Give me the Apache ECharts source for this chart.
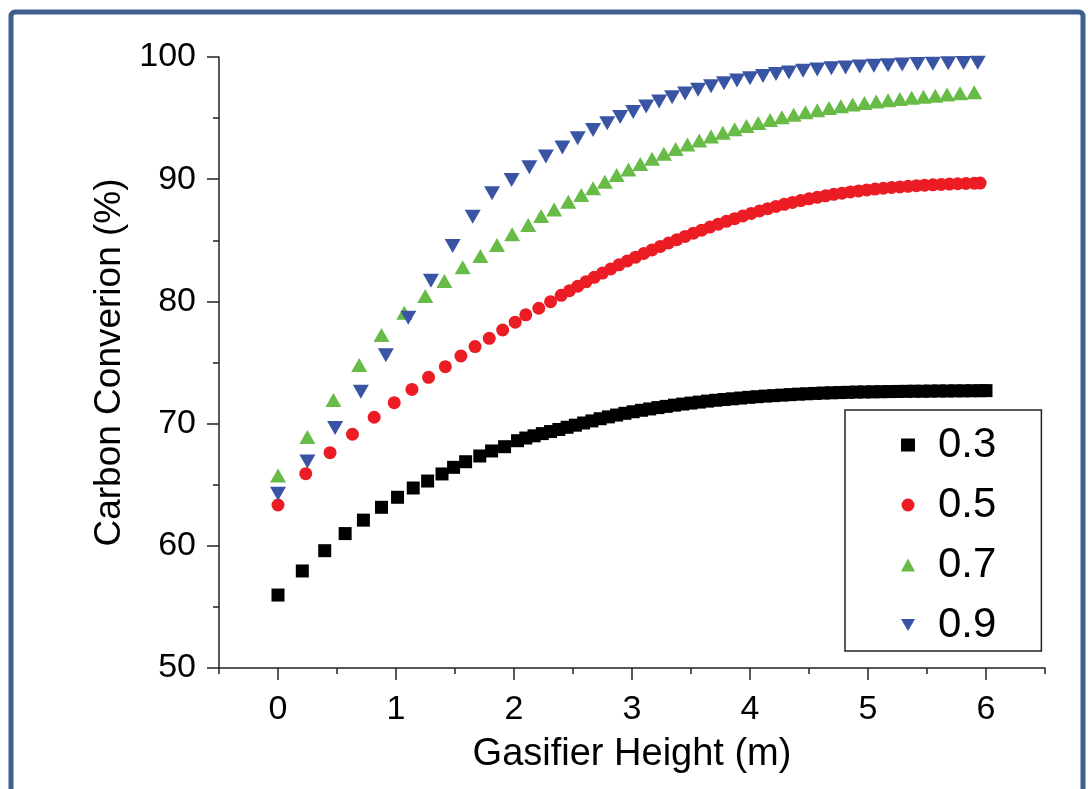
<!DOCTYPE html>
<html>
<head>
<meta charset="utf-8">
<script src="https://cdn.jsdelivr.net/npm/echarts@6/dist/echarts.min.js"></script>
<style>
  html, body { margin: 0; padding: 0; background: #ffffff; }
  #chart { width: 1088px; height: 789px; }
</style>
</head>
<body>
<div id="chart"></div>
<script>
// Carbon conversion along the gasifier height for four parameter values

const seriesNames = ['0.3', '0.5', '0.7', '0.9'];

const xTickValues = [0, 1, 2, 3, 4, 5, 6];

// 0.3
const heights03 = [0, 0.206, 0.396, 0.569, 0.724, 0.877, 1.013, 1.146, 1.268, 1.39, 1.488, 1.59, 1.71, 1.81, 1.92, 2.03,
  2.10, 2.17, 2.24, 2.31, 2.38, 2.45, 2.52, 2.59, 2.66, 2.73, 2.80, 2.87, 2.94, 3.01, 3.08, 3.15, 3.22, 3.29, 3.36, 3.43,
  3.50, 3.57, 3.64, 3.71, 3.78, 3.85, 3.92, 3.99, 4.06, 4.13, 4.20, 4.27, 4.34, 4.41, 4.48, 4.55, 4.62, 4.69, 4.76, 4.83,
  4.90, 4.97, 5.04, 5.11, 5.18, 5.25, 5.32, 5.39, 5.46, 5.53, 5.60, 5.67, 5.74, 5.81, 5.88, 5.95, 6.0];
const conv03 = [55.97, 57.94, 59.6, 61.0, 62.1, 63.15, 63.97, 64.73, 65.3, 65.88, 66.42, 66.88, 67.35, 67.76, 68.11, 68.6,
  68.82, 69.0, 69.18, 69.35, 69.52, 69.7, 69.87, 70.05, 70.22, 70.4, 70.55, 70.7, 70.84, 70.97, 71.09, 71.2, 71.31, 71.41, 71.51, 71.6,
  71.68, 71.76, 71.84, 71.91, 71.97, 72.03, 72.09, 72.15, 72.2, 72.25, 72.29, 72.33, 72.37, 72.41, 72.44, 72.47, 72.5, 72.52, 72.54, 72.56,
  72.58, 72.59, 72.6, 72.61, 72.62, 72.63, 72.64, 72.65, 72.65, 72.66, 72.67, 72.67, 72.68, 72.68, 72.69, 72.69, 72.7];

// 0.5
const heights05 = [0, 0.235, 0.441, 0.631, 0.815, 0.985, 1.135, 1.276, 1.418, 1.55, 1.67, 1.79, 1.904, 2.01, 2.1, 2.21, 2.31, 2.4,
  2.47, 2.54, 2.61, 2.68, 2.75, 2.82, 2.89, 2.96, 3.03, 3.10, 3.17, 3.24, 3.31, 3.38, 3.45, 3.52, 3.59, 3.66, 3.73, 3.80,
  3.87, 3.94, 4.01, 4.08, 4.15, 4.22, 4.29, 4.36, 4.43, 4.50, 4.57, 4.64, 4.71, 4.78, 4.85, 4.92, 4.99, 5.06, 5.13, 5.20,
  5.27, 5.34, 5.41, 5.48, 5.55, 5.62, 5.69, 5.76, 5.83, 5.90, 5.95];
const conv05 = [63.34, 65.9, 67.62, 69.13, 70.52, 71.71, 72.8, 73.79, 74.66, 75.53, 76.3, 76.98, 77.66, 78.3, 78.9, 79.44, 79.98, 80.5,
  80.87, 81.24, 81.6, 81.97, 82.32, 82.66, 82.99, 83.31, 83.62, 83.92, 84.21, 84.5, 84.78, 85.05, 85.32, 85.58, 85.83, 86.08, 86.32, 86.55,
  86.77, 86.99, 87.2, 87.4, 87.59, 87.77, 87.94, 88.1, 88.25, 88.39, 88.52, 88.64, 88.76, 88.86, 88.96, 89.04, 89.12, 89.19, 89.26, 89.32,
  89.37, 89.42, 89.47, 89.51, 89.54, 89.57, 89.6, 89.63, 89.65, 89.67, 89.68];

// 0.7
const heights07 = [0, 0.249, 0.47, 0.688, 0.877, 1.07, 1.248, 1.41, 1.565, 1.715, 1.856, 1.984, 2.12, 2.23, 2.34, 2.46, 2.57, 2.67, 2.77, 2.87,
  2.97, 3.07, 3.17, 3.27, 3.37, 3.47, 3.57, 3.67, 3.77, 3.87, 3.97, 4.07, 4.17, 4.27, 4.37, 4.47, 4.57, 4.67, 4.77, 4.87,
  4.97, 5.07, 5.17, 5.27, 5.37, 5.47, 5.57, 5.67, 5.78, 5.9];
const conv07 = [65.75, 68.9, 71.93, 74.8, 77.25, 79.08, 80.44, 81.67, 82.79, 83.72, 84.62, 85.5, 86.25, 86.99, 87.53, 88.16, 88.71, 89.26, 89.8, 90.34,
  90.8, 91.25, 91.68, 92.08, 92.47, 92.83, 93.17, 93.5, 93.8, 94.08, 94.35, 94.6, 94.85, 95.07, 95.28, 95.47, 95.65, 95.82, 95.97, 96.11,
  96.24, 96.36, 96.47, 96.57, 96.66, 96.75, 96.83, 96.93, 97.03, 97.12];

// 0.9
const heights09 = [0, 0.249, 0.484, 0.702, 0.914, 1.104, 1.296, 1.48, 1.65, 1.814, 1.98, 2.13, 2.27, 2.41, 2.54, 2.67, 2.79, 2.9, 3.01, 3.12, 3.23,
  3.34, 3.45, 3.56, 3.67, 3.78, 3.89, 4.0, 4.11, 4.22, 4.33, 4.45, 4.57, 4.69, 4.81, 4.93, 5.05, 5.17, 5.29, 5.42, 5.55, 5.68, 5.81, 5.93];
const conv09 = [64.25, 66.9, 69.65, 72.6, 75.6, 78.67, 81.7, 84.53, 86.93, 88.85, 89.93, 90.97, 91.85, 92.6, 93.35, 94.03, 94.57, 95.1, 95.5, 95.94, 96.35,
  96.7, 97.02, 97.32, 97.6, 97.85, 98.07, 98.27, 98.44, 98.6, 98.74, 98.87, 98.98, 99.07, 99.15, 99.22, 99.28, 99.33, 99.38, 99.42, 99.45, 99.48, 99.5, 99.52];

const pairs = (xs, ys) => xs.map((x, i) => [x, ys[i]]);

const FONT = '"Liberation Sans", Arial, sans-serif';
const AXIS_COLOR = '#222222';

const chart = echarts.init(document.getElementById('chart'), null, { renderer: 'canvas' });

const downTriangle = 'path://M0,0 L20,0 L10,17 Z';

chart.setOption({
  backgroundColor: '#ffffff',
  animation: false,
  graphic: [{
    type: 'rect',
    shape: { x: 11, y: 12, width: 1072, height: 800, r: 4 },
    style: { fill: 'none', stroke: '#3c5f8d', lineWidth: 5 },
    silent: true
  }],
  grid: { left: 219, right: 43, top: 57, bottom: 121, containLabel: false },
  legend: {
    orient: 'vertical',
    left: 845,
    top: 410,
    padding: [14, 45, 5, 56],
    itemGap: 18,
    itemWidth: 14,
    itemHeight: 13,
    borderColor: '#222222',
    borderWidth: 1.5,
    backgroundColor: '#ffffff',
    textStyle: { fontFamily: FONT, fontSize: 42, color: '#000000', padding: [0, 0, 0, 18] },
    data: [
      { name: seriesNames[0], icon: 'rect' },
      { name: seriesNames[1], icon: 'circle' },
      { name: seriesNames[2], icon: 'triangle' },
      { name: seriesNames[3], icon: downTriangle }
    ]
  },
  xAxis: [{
    type: 'value',
    min: -0.5,
    max: 6.5,
    interval: 0.5,
    name: 'Gasifier Height (m)',
    nameLocation: 'middle',
    nameGap: 68,
    nameTextStyle: { fontFamily: FONT, fontSize: 38, color: '#000000' },
    splitLine: { show: false },
    axisLine: { show: true, onZero: false, lineStyle: { color: AXIS_COLOR, width: 1.5 } },
    axisTick: { show: true, inside: false, length: 6, lineStyle: { color: AXIS_COLOR, width: 1.5 } },
    axisLabel: {
      fontFamily: FONT, fontSize: 34, color: '#000000', margin: 25,
      formatter: v => (Math.abs(v - Math.round(v)) < 1e-9 ? String(Math.round(v)) : '')
    }
  }, {
    type: 'value',
    min: -0.5,
    max: 6.5,
    position: 'bottom',
    splitLine: { show: false },
    axisLine: { show: false },
    axisTick: { show: true, inside: false, length: 12, customValues: xTickValues, lineStyle: { color: AXIS_COLOR, width: 1.5 } },
    axisLabel: { show: false }
  }],
  yAxis: {
    type: 'value',
    min: 50,
    max: 100,
    interval: 10,
    name: 'Carbon Converion (%)',
    nameLocation: 'middle',
    nameGap: 90,
    nameTextStyle: { fontFamily: FONT, fontSize: 37, color: '#000000' },
    splitLine: { show: false },
    axisLine: { show: true, onZero: false, lineStyle: { color: AXIS_COLOR, width: 1.5 } },
    axisTick: { show: true, inside: false, length: 12, lineStyle: { color: AXIS_COLOR, width: 1.5 } },
    minorTick: { show: true, splitNumber: 2, length: 6, lineStyle: { color: AXIS_COLOR, width: 1.5 } },
    axisLabel: { fontFamily: FONT, fontSize: 34, color: '#000000', margin: 23 }
  },
  series: [
    {
      name: seriesNames[0], type: 'scatter', symbol: 'rect', symbolSize: 13,
      itemStyle: { color: '#000000', opacity: 1 },
      data: pairs(heights03, conv03), z: 2
    },
    {
      name: seriesNames[1], type: 'scatter', symbol: 'circle', symbolSize: 13,
      itemStyle: { color: '#ec1c24', opacity: 1 },
      data: pairs(heights05, conv05), z: 3
    },
    {
      name: seriesNames[2], type: 'scatter', symbol: 'triangle', symbolSize: [16, 14],
      itemStyle: { color: '#67bb46', opacity: 1 },
      data: pairs(heights07, conv07), z: 4
    },
    {
      name: seriesNames[3], type: 'scatter', symbol: downTriangle, symbolSize: [16, 14],
      itemStyle: { color: '#3a54a4', opacity: 1 },
      data: pairs(heights09, conv09), z: 5
    }
  ]
});
</script>
</body>
</html>
